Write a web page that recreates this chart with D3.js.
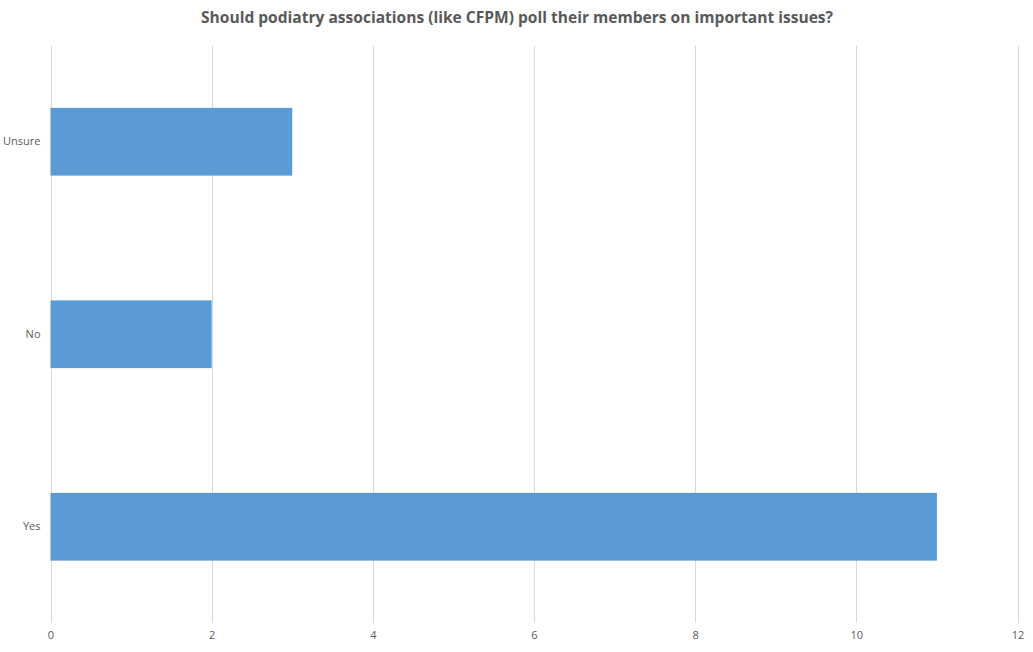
<!DOCTYPE html>
<html>
<head>
<meta charset="utf-8">
<script src="https://cdn.jsdelivr.net/npm/d3@7"></script>
<style>
  body { margin: 0; background: #fff; }
  text { font-family: "Open Sans", "Noto Sans", sans-serif; fill: #595959; }
</style>
</head>
<body>
<script>
// chart data
const categories = ['Unsure', 'No', 'Yes'];
const counts = [3, 2, 11];
const xTicks = [0, 2, 4, 6, 8, 10, 12];
const title = 'Should podiatry associations (like CFPM) poll their members on important issues?';

const svgWidth = 1033;
const svgHeight = 652;
const plot = { left: 50.5, right: 1017.5, top: 45.5, bottom: 623 };

const svg = d3.select('body')
.append('svg')
.attr('width', svgWidth)
.attr('height', svgHeight)

const x = d3.scaleLinear()
.domain([0, 12])
.range([plot.left, plot.right])

const y = d3.scaleBand()
.domain(categories)
.range([plot.top, plot.bottom])
.paddingInner(0.648)
.paddingOuter(0.324)

// title
svg.append('text')
.attr('x', 517)
.attr('y', 23)
.attr('text-anchor', 'middle')
.attr('font-size', 16)
.attr('font-weight', 'bold')
.attr('textLength', 632)
.attr('lengthAdjust', 'spacingAndGlyphs')
.text(title)

// vertical gridlines
svg.append('g')
.selectAll('line')
.data(xTicks).enter()
.append('line')
.attr('x1', (d) => Math.round(x(d)) + 0.5)
.attr('x2', (d) => Math.round(x(d)) + 0.5)
.attr('y1', plot.top)
.attr('y2', plot.bottom)
.attr('stroke', '#d9d9d9')
.attr('stroke-width', 1)

// bars
svg.append('g')
.selectAll('rect')
.data(categories).enter()
.append('rect')
.attr('x', x(0))
.attr('y', (d) => y(d))
.attr('width', (d, i) => x(counts[i]) - x(0))
.attr('height', y.bandwidth())
.attr('fill', '#5b9bd5')

// x axis labels
const xAxis = svg.append('g')
.attr('transform', `translate(0, ${plot.bottom + 8})`)
.call(d3.axisBottom(x).tickValues(xTicks).tickSize(0).tickPadding(0))
xAxis.select('.domain').remove()
xAxis.selectAll('text')
.attr('font-size', 11)
.attr('fill', '#595959')
.style('font-family', '"Open Sans", "Noto Sans", sans-serif')

// y axis labels
const yAxis = svg.append('g')
.attr('transform', `translate(${plot.left - 10}, 0)`)
.call(d3.axisLeft(y).tickSize(0).tickPadding(0))
yAxis.select('.domain').remove()
yAxis.selectAll('text')
.attr('font-size', 11)
.attr('fill', '#595959')
.style('font-family', '"Open Sans", "Noto Sans", sans-serif')
</script>
</body>
</html>
